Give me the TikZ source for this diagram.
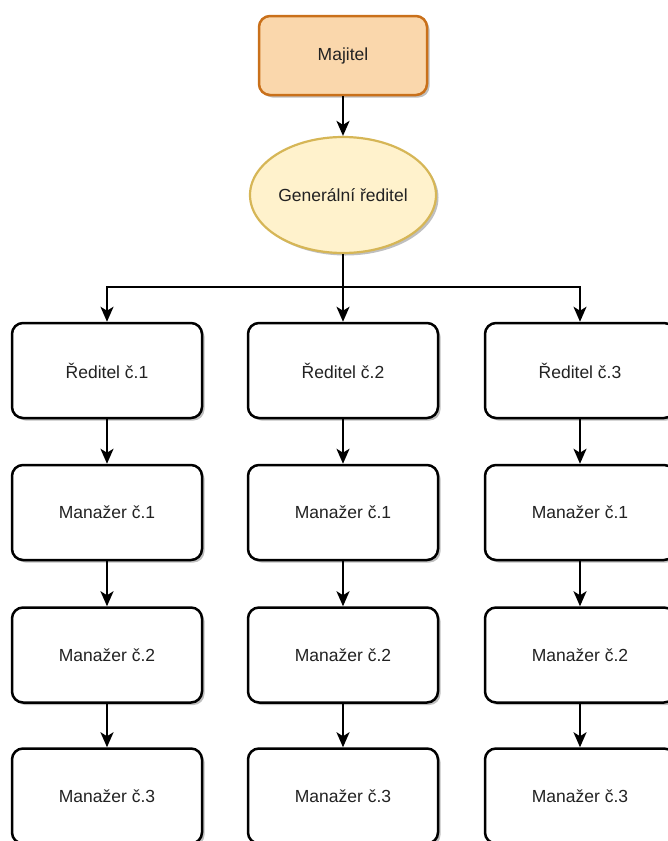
\documentclass[tikz,border=0pt]{standalone}
\usepackage{fontspec}
\setmainfont{Liberation Sans}
\usetikzlibrary{arrows.meta,shadows,shapes.geometric,positioning}
\definecolor{ownfill}{HTML}{FAD7AC}
\definecolor{ownline}{HTML}{C9701A}
\definecolor{genfill}{HTML}{FFF2CC}
\definecolor{genline}{HTML}{D6B656}
\definecolor{txt}{HTML}{222222}
\tikzset{
  boxshadow/.style={drop shadow={shadow xshift=2.5pt,shadow yshift=-2.5pt,opacity=0.25,fill=black}},
  orgbox/.style={draw=black,line width=2.5pt,rounded corners=11pt,fill=white,
    minimum width=190pt,minimum height=95pt,inner sep=0pt,boxshadow,
    font=\fontsize{17.5}{20}\selectfont,text=txt},
  ownbox/.style={orgbox,draw=ownline,fill=ownfill,minimum width=168pt,minimum height=79pt},
  genell/.style={ellipse,draw=genline,fill=genfill,line width=2.2pt,minimum width=186pt,
    minimum height=116pt,inner sep=0pt,boxshadow,font=\fontsize{17.5}{20}\selectfont,text=txt},
  link/.style={line width=2.3pt,draw=black,-{Stealth[length=15pt,width=13pt,inset=4pt]}},
}
\begin{document}
\begin{tikzpicture}[x=1pt,y=-1pt]
\useasboundingbox (0,0) rectangle (667,841);
\node[ownbox] (own) at (343,55.5) {Majitel};
\node[genell] (gen) at (343,195) {Generální ředitel};
\coordinate (junc) at (343,287);
\foreach \c/\x in {1/107,2/343,3/580}{
  \node[orgbox] (r\c) at (\x,370.5) {Ředitel č.\c};
  \node[orgbox] (m1\c) at (\x,512.5) {Manažer č.1};
  \node[orgbox] (m2\c) at (\x,655) {Manažer č.2};
  \node[orgbox] (m3\c) at (\x,796) {Manažer č.3};
}
\draw[link] (own) -- (gen);
\draw[line width=2.3pt] (gen.south) -- (junc);
\draw[link] (junc) -| (r1.north);
\draw[link] (junc) -- (r2.north);
\draw[link] (junc) -| (r3.north);
\foreach \c in {1,2,3}{
  \draw[link] (r\c) -- (m1\c);
  \draw[link] (m1\c) -- (m2\c);
  \draw[link] (m2\c) -- (m3\c);
}
\end{tikzpicture}
\end{document}
